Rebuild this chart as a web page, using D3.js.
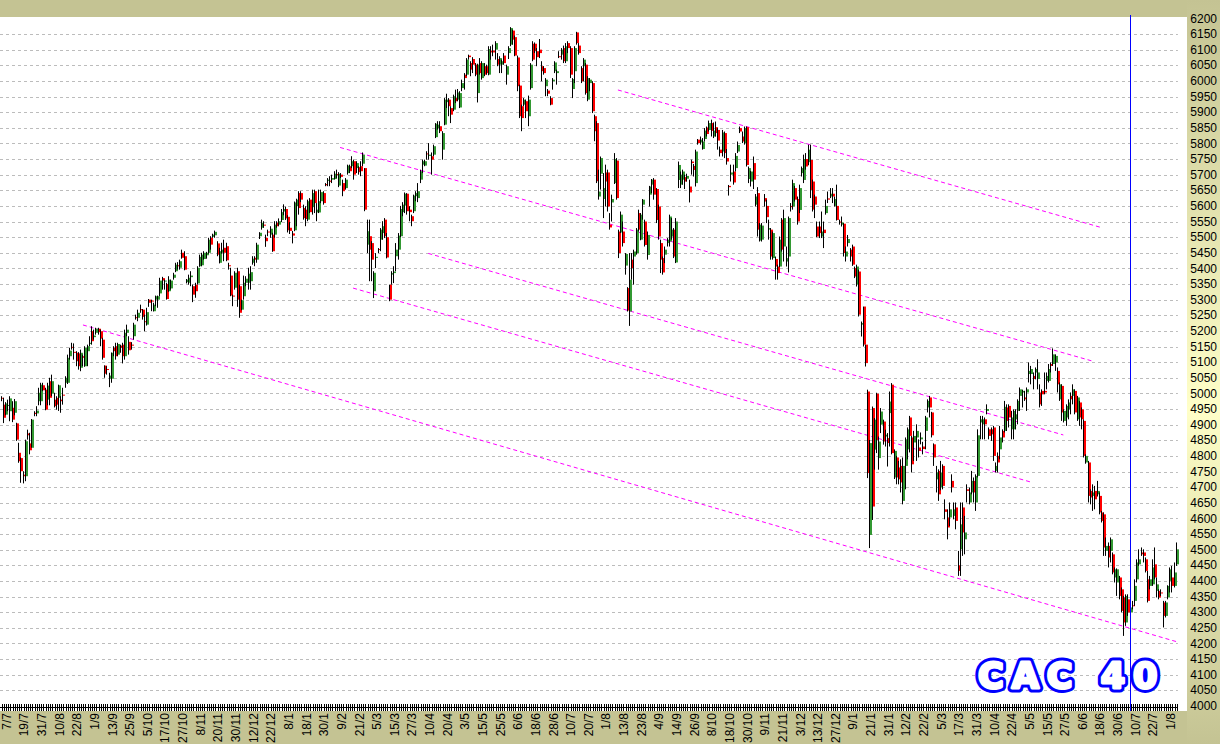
<!DOCTYPE html>
<html>
<head>
<meta charset="utf-8">
<script src="https://cdn.jsdelivr.net/npm/d3@7"></script>
<style>
  body { margin: 0; background: #c4c393; }
  svg { display: block; }
</style>
</head>
<body>
<div id="chart"></div>
<script>
/**
 * CONSTANTS AND GLOBALS
 * */
const width = 1220,
  height = 744,
  plot = { left: 0, top: 17, right: 1187, bottom: 711 };

/**
 * DATA  (daily candles, 7/7/2006 -> early 8/2008)
 * */
const openVals = [
  4986,4964,4932,4960,4943,4954,4938,4904,4810,4793,4740,4735,4872,4840,4826,4938,4936,4975,4975,5026,
  5012,4980,5039,4999,4980,4986,4986,4980,4996,5034,5034,5119,5149,5133,5130,5128,5082,5119,5087,5135,
  5158,5199,5180,5194,5207,5199,5172,5089,5078,5047,5047,5146,5151,5124,5153,5156,5119,5194,5165,5156,
  5183,5244,5242,5270,5268,5231,5220,5300,5297,5263,5300,5300,5320,5369,5358,5350,5327,5336,5370,5391,
  5410,5402,5450,5439,5356,5354,5372,5343,5348,5352,5407,5410,5430,5442,5450,5498,5501,5506,5480,5418,
  5450,5466,5471,5410,5377,5313,5338,5391,5343,5268,5311,5354,5354,5359,5418,5434,5428,5503,5530,5540,
  5498,5518,5508,5508,5508,5546,5540,5555,5582,5590,5565,5530,5512,
  5522,5599,5641,5641,5593,5588,5556,5620,5596,5647,5579,5579,5615,5641,5670,5680,5681,5684,5686,5702,
  5665,5700,5673,5657,5705,5727,5727,5743,5721,5724,5727,5735,5721,5476,5503,5481,5327,5434,5462,5492,
  5513,5556,5500,5348,5380,5385,5439,5460,5503,5580,5601,5639,5588,5567,5583,5631,5625,5684,5732,5729,
  5768,5760,5759,5764,5820,5849,5855,5780,5860,5932,5940,5913,5908,5945,5940,5915,5977,6020,6020,6081,
  6057,6070,6052,5961,6057,6009,6047,6047,6020,6097,6097,6100,6070,6052,6052,6081,6020,6089,6116,6161,
  6140,6075,5985,5919,5924,5935,5887,5977,6119,6119,6095,6100,6047,6041,5983,5969,5945,5999,6031,6025,
  6079,6084,6105,6063,6121,6105,5974,6031,6155,6113,6041,6047,6052,5940,5993,5993,5887,5865,
  5630,5703,5622,5707,5707,5540,5611,5673,5745,5518,5515,5518,5409,5337,5262,5428,5438,5449,5577,5492,
  5604,5550,5443,5636,5668,5684,5654,5598,5481,5433,5444,5481,5486,5502,5524,5419,5683,5668,5684,5692,
  5687,5662,5742,5728,5673,5812,5803,5782,5814,5851,5843,5865,5822,5852,5843,5780,5774,5833,5753,5664,
  5700,5710,5721,5774,5849,5822,5801,5852,5686,5678,5737,5604,5641,5489,5492,5625,5600,5524,5524,5433,
  5430,5406,5406,5556,5470,5422,5438,5600,5598,5657,5622,5587,5705,5683,5750,5740,5747,5678,5630,5534,
  5534,5502,5524,5577,5624,5630,5639,5600,5600,5550,5540,5543,5438,5481,5460,5470,5401,5348,5390,5220,
  5278,5156,5006,4547,4953,4820,4999,4793,4900,4910,4862,4857,4937,5028,
  4731,4795,4763,4768,4656,4768,4821,4923,4859,4843,4859,4827,4853,4830,4880,4955,4987,4939,4837,4725,
  4752,4699,4768,4629,4603,4603,4720,4608,4635,4450,4501,4635,4533,4693,4651,4683,4720,4651,4736,4907,
  4901,4917,4944,4885,4885,4891,4752,4800,4821,4880,4880,4955,4960,4885,4885,4917,4944,4992,5003,4987,
  5003,5062,5062,5056,5067,5046,5003,5008,5008,5040,5040,5094,5094,5099,5072,4981,5024,4912,4923,4949,
  4992,4992,5008,4917,4971,4949,4912,4779,4779,4688,4672,4688,4677,4672,4619,4613,4496,4512,4496,4485,
  4411,4395,4411,4373,4347,4267,4341,4299,4322,4336,4405,4453,4491,4491,4469,4405,4384,4389,4453,4368,
  4368,4363,4331,4288,4347,4400,4411,4384,4453
];

const closeVals = [
  4983,4922,4968,4963,4984,4916,4975,4852,4783,4751,4735,4847,4866,4818,4916,4934,4945,5002,5028,5010,
  4948,5025,4986,5039,4959,4964,5026,4975,4993,5050,5114,5137,5146,5130,5103,5087,5130,5114,5146,5151,
  5162,5167,5185,5207,5196,5175,5114,5063,5076,5057,5130,5135,5119,5158,5146,5119,5194,5204,5138,5153,
  5220,5241,5258,5266,5245,5228,5260,5290,5294,5284,5311,5311,5361,5361,5361,5302,5364,5361,5380,5412,
  5407,5423,5434,5396,5364,5370,5377,5316,5327,5402,5437,5444,5450,5450,5492,5476,5508,5517,5444,5455,
  5460,5450,5426,5407,5313,5310,5386,5300,5258,5298,5354,5367,5383,5388,5431,5428,5476,5514,5546,5537,
  5487,5516,5527,5455,5540,5535,5551,5580,5590,5560,5522,5520,5505,
  5611,5620,5593,5620,5561,5558,5615,5580,5641,5609,5588,5615,5644,5609,5666,5684,5677,5689,5703,5700,
  5703,5693,5647,5684,5729,5711,5743,5700,5737,5708,5711,5764,5588,5519,5460,5428,5386,5437,5459,5524,
  5535,5503,5435,5300,5385,5390,5460,5505,5590,5604,5639,5583,5580,5551,5633,5641,5647,5711,5743,5743,
  5766,5764,5748,5791,5863,5860,5839,5833,5940,5940,5919,5892,5951,5935,5963,5961,5993,6009,6068,6076,
  6036,6052,6020,6052,6025,6057,6020,6025,6102,6091,6091,6121,6052,6073,6063,6057,6047,6105,6169,6132,
  6081,5983,5887,5881,5940,5903,5940,6052,6068,6095,6076,6089,6031,6025,6004,5959,5924,6004,6059,6031,
  6076,6100,6063,6111,6105,6020,6006,6105,6121,6089,5999,6068,5961,6009,6004,5903,5839,5679,
  5646,5753,5657,5678,5598,5531,5622,5750,5625,5449,5572,5481,5446,5265,5364,5401,5454,5524,5524,5572,
  5620,5475,5507,5662,5684,5636,5555,5502,5428,5387,5460,5492,5566,5524,5438,5550,5731,5700,5710,5678,
  5696,5643,5737,5715,5774,5801,5812,5806,5841,5830,5865,5840,5841,5833,5809,5769,5835,5769,5742,5660,
  5707,5675,5760,5795,5838,5806,5849,5731,5721,5710,5684,5630,5524,5540,5537,5614,5564,5529,5438,5513,
  5406,5385,5492,5460,5561,5433,5561,5596,5673,5620,5550,5657,5721,5750,5726,5780,5651,5588,5604,5502,
  5513,5518,5513,5600,5620,5639,5630,5622,5555,5547,5547,5449,5454,5494,5438,5412,5374,5406,5252,5225,
  5156,5097,4745,4841,4638,4916,4851,4846,4942,4846,4868,4841,4974,4809,
  4816,4731,4725,4715,4768,4853,4885,4864,4773,4864,4880,4816,4859,4822,4923,4976,4955,4866,4795,4747,
  4677,4747,4704,4621,4571,4629,4699,4629,4592,4432,4581,4555,4555,4688,4683,4720,4683,4736,4866,4917,
  4917,4901,4950,4864,4869,4800,4768,4779,4859,4859,4957,4912,4923,4923,4944,4933,4976,5013,5008,4981,
  5013,5072,5078,5046,5078,5067,4965,4997,5003,5056,5078,5088,5125,5120,5029,5029,4939,4944,4960,4971,
  4981,5013,4939,4987,4923,4917,4800,4800,4672,4667,4683,4661,4688,4619,4592,4507,4512,4475,4533,4427,
  4437,4437,4352,4304,4267,4352,4299,4315,4320,4384,4459,4469,4485,4480,4432,4336,4405,4443,4411,4389,
  4347,4362,4288,4331,4384,4437,4384,4427,4501
];

const highVals = [
  4991,4986,4972,4980,4991,4975,4982,4906,4842,4795,4751,4852,4884,4874,4918,4943,4959,5018,5034,5034,
  5018,5034,5050,5060,5002,4991,5028,4991,5018,5055,5124,5146,5162,5160,5135,5132,5140,5124,5151,5156,
  5183,5215,5204,5210,5210,5204,5178,5090,5087,5066,5131,5151,5162,5162,5156,5162,5204,5220,5183,5164,
  5226,5252,5268,5284,5270,5252,5274,5302,5300,5290,5313,5313,5370,5373,5364,5354,5375,5364,5386,5418,
  5420,5428,5460,5455,5366,5380,5391,5348,5354,5407,5444,5450,5455,5453,5498,5503,5511,5521,5487,5466,
  5482,5492,5482,5418,5402,5316,5391,5402,5348,5300,5377,5375,5402,5407,5439,5439,5482,5516,5556,5551,
  5508,5524,5535,5514,5551,5551,5560,5590,5605,5598,5570,5548,5520,
  5614,5623,5647,5647,5604,5599,5620,5625,5652,5652,5609,5652,5652,5647,5673,5689,5695,5700,5711,5716,
  5708,5705,5684,5689,5732,5732,5759,5748,5743,5727,5743,5771,5721,5556,5556,5487,5391,5449,5465,5529,
  5551,5561,5513,5348,5391,5407,5481,5513,5600,5612,5643,5641,5599,5572,5636,5647,5673,5716,5748,5748,
  5775,5801,5771,5796,5865,5871,5871,5839,5945,5959,5945,5919,5956,5972,5974,5967,6004,6025,6073,6084,
  6063,6076,6057,6055,6073,6063,6057,6052,6111,6111,6116,6127,6089,6079,6068,6089,6052,6111,6172,6164,
  6145,6081,5988,5924,5945,5940,5953,6057,6127,6123,6105,6134,6063,6047,6009,5974,5951,6009,6063,6036,
  6095,6105,6113,6121,6127,6111,6009,6111,6157,6121,6047,6073,6057,6015,6009,5999,5892,5871,
  5716,5758,5705,5732,5716,5577,5636,5769,5753,5524,5582,5550,5449,5340,5449,5449,5460,5529,5588,5577,
  5622,5556,5518,5664,5686,5689,5657,5604,5492,5438,5470,5497,5572,5561,5529,5561,5742,5710,5716,5700,
  5703,5684,5748,5734,5780,5814,5822,5817,5849,5854,5873,5876,5867,5870,5849,5790,5843,5838,5782,5667,
  5732,5732,5769,5806,5854,5838,5854,5854,5726,5712,5758,5638,5660,5545,5545,5638,5620,5556,5529,5518,
  5438,5412,5502,5561,5588,5470,5566,5609,5684,5664,5630,5668,5726,5764,5769,5796,5796,5684,5636,5550,
  5550,5582,5550,5620,5646,5657,5657,5630,5668,5556,5566,5545,5470,5507,5465,5476,5406,5412,5396,5230,
  5278,5156,5012,4851,4958,4921,5002,4862,4953,4916,4884,4873,5006,5033,
  4821,4800,4784,4789,4795,4859,4891,4928,4864,4880,4901,4853,4875,4845,4928,4981,4992,4941,4840,4768,
  4757,4784,4773,4661,4629,4651,4741,4651,4651,4496,4651,4651,4608,4709,4699,4752,4731,4741,4885,4928,
  4928,4923,4965,4891,4891,4896,4779,4811,4896,4885,4976,4965,4965,4944,4949,4949,4981,5019,5012,5008,
  5019,5099,5088,5067,5083,5109,5029,5013,5067,5067,5094,5099,5144,5125,5083,5035,5029,4949,4965,4981,
  5003,5029,5013,4992,4976,4955,4917,4805,4784,4693,4709,4704,4720,4683,4624,4619,4539,4523,4539,4491,
  4443,4440,4416,4379,4352,4357,4357,4331,4336,4405,4469,4501,4507,4501,4475,4432,4416,4469,4507,4411,
  4373,4373,4336,4336,4386,4443,4448,4459,4523
];

const lowVals = [
  4975,4905,4930,4943,4911,4908,4930,4848,4778,4714,4712,4719,4852,4805,4826,4927,4927,4962,4962,5007,
  4946,4962,4962,4991,4955,4948,4944,4938,4964,5018,5030,5108,5140,5108,5087,5076,5071,5087,5085,5087,
  5151,5156,5172,5188,5188,5151,5108,5050,5060,5020,5034,5119,5108,5119,5130,5096,5108,5183,5124,5140,
  5172,5236,5231,5258,5236,5199,5217,5277,5263,5262,5279,5274,5311,5332,5332,5300,5325,5332,5364,5388,
  5396,5396,5431,5394,5352,5348,5343,5292,5306,5348,5405,5407,5428,5431,5447,5460,5498,5498,5439,5416,
  5447,5423,5423,5396,5311,5279,5332,5277,5242,5266,5300,5343,5332,5332,5412,5407,5418,5494,5524,5530,
  5469,5503,5498,5453,5498,5530,5535,5548,5570,5555,5515,5510,5480,
  5519,5535,5572,5612,5556,5535,5551,5577,5572,5577,5551,5577,5609,5604,5663,5663,5663,5673,5684,5689,
  5660,5689,5631,5652,5700,5705,5721,5684,5705,5700,5695,5727,5583,5449,5359,5359,5305,5401,5449,5455,
  5492,5497,5432,5295,5348,5353,5391,5428,5500,5567,5577,5572,5551,5535,5577,5615,5612,5673,5705,5727,
  5748,5748,5700,5759,5817,5844,5833,5748,5858,5913,5887,5865,5903,5929,5935,5913,5967,5972,6015,6068,
  6015,6025,6015,5931,6020,6004,6015,6020,6018,6068,6079,6068,6047,6025,6025,6052,5988,6070,6111,6116,
  6079,5967,5881,5839,5919,5881,5855,5972,6063,6089,6047,6073,5999,6020,5951,5951,5922,5972,6025,5988,
  6073,6068,6057,6057,6089,6009,5945,5993,6116,6084,5993,5999,5956,5935,5967,5897,5807,5673,
  5620,5652,5561,5598,5582,5524,5550,5670,5620,5433,5513,5470,5380,5262,5216,5364,5348,5444,5518,5490,
  5556,5470,5428,5598,5641,5620,5545,5492,5385,5380,5417,5470,5470,5492,5433,5417,5657,5657,5668,5654,
  5678,5611,5700,5694,5662,5796,5796,5780,5806,5822,5838,5822,5817,5822,5780,5758,5758,5753,5732,5633,
  5678,5668,5710,5769,5833,5801,5796,5726,5673,5662,5654,5598,5502,5486,5486,5598,5545,5492,5428,5428,
  5364,5364,5404,5454,5422,5406,5387,5582,5588,5614,5540,5577,5694,5673,5716,5730,5625,5582,5561,5500,
  5497,5497,5465,5572,5609,5625,5609,5598,5553,5540,5534,5438,5422,5470,5422,5408,5369,5342,5246,5182,
  5150,5086,4729,4505,4595,4756,4809,4756,4873,4836,4830,4766,4830,4805,
  4726,4709,4709,4683,4645,4693,4789,4811,4747,4784,4784,4795,4837,4805,4821,4939,4923,4859,4768,4683,
  4656,4690,4693,4597,4533,4576,4683,4597,4565,4416,4416,4480,4485,4651,4645,4677,4651,4624,4731,4853,
  4853,4853,4933,4853,4848,4784,4747,4747,4789,4843,4875,4880,4891,4853,4853,4885,4901,4944,4955,4976,
  4944,5035,5029,5013,5045,5013,4955,4960,4997,5013,5035,5067,5088,5072,5003,4976,4912,4907,4896,4917,
  4933,4965,4933,4912,4896,4885,4795,4775,4651,4645,4624,4629,4670,4613,4587,4480,4480,4443,4459,4421,
  4395,4352,4341,4299,4224,4256,4288,4277,4309,4320,4395,4448,4480,4459,4427,4331,4373,4384,4405,4347,
  4341,4352,4251,4283,4341,4363,4363,4379,4448
];

// one date label every 8 sessions, first on session 2
const dateLabels = [
  "7/7","19/7","31/7","10/8","22/8","1/9","13/9","25/9","5/10","17/10",
  "27/10","8/11","20/11","30/11","12/12","22/12","8/1","18/1","30/1","9/2",
  "21/2","5/3","15/3","27/3","10/4","20/4","3/5","15/5","25/5","6/6",
  "18/6","28/6","10/7","20/7","1/8","13/8","23/8","4/9","14/9","26/9",
  "8/10","18/10","30/10","9/11","21/11","3/12","13/12","27/12","9/1","21/1",
  "31/1","12/2","22/2","5/3","17/3","31/3","10/4","22/4","5/5","15/5",
  "27/5","6/6","18/6","30/6","10/7","22/7","1/8"
];
const labelFirst = 2, labelEvery = 8;

// channel lines: [session, level] -> [session, level]
const channelLines = [
  [[36.9, 5219], [533.1, 4205]],
  [[159.4, 5337], [466.4, 4717]],
  [[193.5, 5448], [481.5, 4867]],
  [[153.5, 5787], [494.4, 5104]],
  [[279.5, 5971], [498.1, 5532]]
];

const markerSession = 511.7;
const priceTicks = d3.range(4000, 6201, 50);
const title = "CAC 40";

let svg;

/**
 * INIT
 * */
function init() {
  svg = d3.select("#chart")
    .append("svg")
    .attr("width", width)
    .attr("height", height);

  const candles = closeVals.map((c, i) => ({
    i: i, open: openVals[i], high: highVals[i], low: lowVals[i], close: c
  }));

  const x = d3.scaleLinear()
    .domain([0, candles.length - 1])
    .range([1.6, 1176.9]);

  const y = d3.scaleLinear()
    .domain([4000, 6200])
    .range([705.9, 18.4]);

  const defs = svg.append("defs");
  const grad = defs.append("linearGradient")
    .attr("id", "panelGrad")
    .attr("x1", 0).attr("y1", 0).attr("x2", 0).attr("y2", 1);
  grad.append("stop").attr("offset", "0%").attr("stop-color", "#c4c393");
  grad.append("stop").attr("offset", "55%").attr("stop-color", "#ffffc8");
  grad.append("stop").attr("offset", "100%").attr("stop-color", "#c4c393");

  // background pieces
  svg.append("rect")
    .attr("width", width).attr("height", height)
    .attr("fill", "#c4c393");
  svg.append("rect")
    .attr("x", plot.right).attr("y", 0)
    .attr("width", width - plot.right).attr("height", height)
    .attr("fill", "url(#panelGrad)");
  svg.append("rect")
    .attr("x", plot.left).attr("y", plot.top)
    .attr("width", plot.right - plot.left).attr("height", plot.bottom - plot.top)
    .attr("fill", "#ffffff");

  // dashed grid
  svg.append("g")
    .selectAll("line")
    .data(priceTicks.filter(v => v > 4000 && v < 6200))
    .join("line")
    .attr("x1", 0)
    .attr("x2", x(candles.length - 1) + 1)
    .attr("y1", d => Math.round(y(d)) + 0.5)
    .attr("y2", d => Math.round(y(d)) + 0.5)
    .attr("stroke", "#bcbcbc")
    .attr("stroke-dasharray", "3,3");

  // channel lines
  svg.append("g")
    .selectAll("line")
    .data(channelLines)
    .join("line")
    .attr("x1", d => x(d[0][0]))
    .attr("y1", d => y(d[0][1]))
    .attr("x2", d => x(d[1][0]))
    .attr("y2", d => y(d[1][1]))
    .attr("stroke", "#ff00ff")
    .attr("stroke-width", 1)
    .attr("stroke-dasharray", "4,3");

  // candles: wick at the left column, 2px body beside it
  const candle = svg.append("g")
    .selectAll("g")
    .data(candles)
    .join("g")
    .attr("transform", d => `translate(${Math.round(x(d.i)) - 1},0)`);

  candle.append("line")
    .attr("x1", 0.5).attr("x2", 0.5)
    .attr("y1", d => y(d.high))
    .attr("y2", d => y(d.low))
    .attr("stroke", "#000")
    .attr("stroke-width", 1);

  candle.append("rect")
    .attr("x", 1)
    .attr("width", 2)
    .attr("y", d => y(Math.max(d.open, d.close)))
    .attr("height", d => Math.max(1, Math.abs(y(d.open) - y(d.close))))
    .attr("fill", d => d.close >= d.open ? "#339933" : "#ff0000");

  // session ticks along the bottom edge
  svg.append("line")
    .attr("x1", 0).attr("x2", x(candles.length - 1) + 1)
    .attr("y1", 707.5).attr("y2", 707.5)
    .attr("stroke", "#000");
  svg.append("g")
    .selectAll("line")
    .data(candles)
    .join("line")
    .attr("x1", d => Math.round(x(d.i)) + 0.5)
    .attr("x2", d => Math.round(x(d.i)) + 0.5)
    .attr("y1", 704)
    .attr("y2", 711)
    .attr("stroke", "#000");

  // blue marker
  svg.append("line")
    .attr("x1", Math.round(x(markerSession)) + 0.5)
    .attr("x2", Math.round(x(markerSession)) + 0.5)
    .attr("y1", 15).attr("y2", plot.bottom)
    .attr("stroke", "#0000ff")
    .attr("stroke-width", 1);

  // price labels on the right
  svg.append("g")
    .selectAll("text")
    .data(priceTicks)
    .join("text")
    .attr("x", 1217)
    .attr("y", d => y(d))
    .attr("dy", "0.35em")
    .attr("text-anchor", "end")
    .attr("font-family", "'Liberation Sans', Arial, sans-serif")
    .attr("font-size", 12)
    .attr("fill", "#000")
    .text(d => d);

  // date labels, rotated
  svg.append("g")
    .selectAll("text")
    .data(dateLabels)
    .join("text")
    .attr("transform", (d, k) => `translate(${x(labelFirst + k * labelEvery) + 0.5},713) rotate(-90)`)
    .attr("dy", "0.35em")
    .attr("text-anchor", "end")
    .attr("font-family", "'Liberation Sans', Arial, sans-serif")
    .attr("font-size", 12)
    .attr("fill", "#000")
    .text(d => d);

  // outlined title: wide blue stroke underneath, white fattened glyph on top
  const titleG = svg.append("g")
    .attr("font-family", "'DejaVu Sans', sans-serif")
    .attr("font-weight", "bold")
    .attr("font-size", 35)
    .attr("letter-spacing", 8)
    .attr("stroke-linejoin", "round");

  titleG.append("text")
    .attr("x", 978).attr("y", 688)
    .attr("fill", "#0000ff")
    .attr("stroke", "#0000ff")
    .attr("stroke-width", 9)
    .text(title);

  titleG.append("text")
    .attr("x", 978).attr("y", 688)
    .attr("fill", "#ffffff")
    .attr("stroke", "#ffffff")
    .attr("stroke-width", 3)
    .text(title);
}

init();
</script>
</body>
</html>
